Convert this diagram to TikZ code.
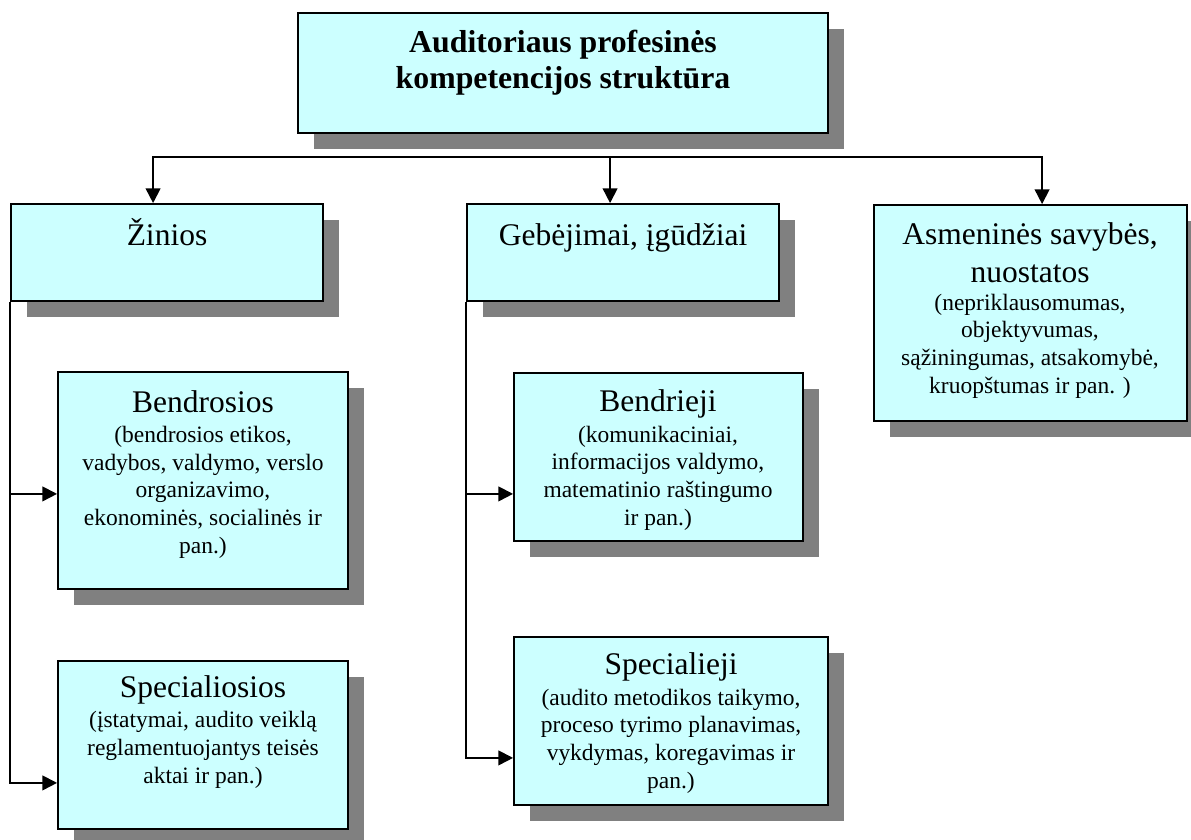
\documentclass[tikz,border=0pt]{standalone}
\usepackage{fontspec}
\setmainfont{Liberation Serif}
\usetikzlibrary{arrows.meta,shadows,fit,calc}
\definecolor{boxcyan}{HTML}{CCFFFF}
\definecolor{shadegray}{HTML}{808080}
\newcommand{\ttlfont}{\fontsize{22.6}{25.6}\selectfont\bfseries}
\newcommand{\headfont}{\fontsize{22.4}{25}\selectfont}
\newcommand{\notefont}{\fontsize{16.7}{19.6}\selectfont}

\begin{document}
\begin{tikzpicture}[x=0.025cm,y=-0.025cm,
    kbox/.style={draw,line width=1.3pt,fill=boxcyan,inner sep=0pt,
      drop shadow={shadow xshift=11.4pt,shadow yshift=-11.4pt,fill=shadegray,opacity=1}},
    txt/.style={anchor=base,inner sep=0pt,align=center,font=\notefont},
    link/.style={line width=1.3pt,-{Triangle[length=10.5pt,width=10.5pt]}}]
  \useasboundingbox (0,0) rectangle (1191,840);
  % boxes
  \node[kbox,fit={(298,13) (828,133)}] (top) {};
  \node[kbox,fit={(11,204) (323,301)}] (zin) {};
  \node[kbox,fit={(467,204) (779,301)}] (geb) {};
  \node[kbox,fit={(874,205) (1187,421)}] (asm) {};
  \node[kbox,fit={(58,372) (348,589)}] (bend) {};
  \node[kbox,fit={(58,661) (348,829)}] (spec) {};
  \node[kbox,fit={(514,373) (803,541)}] (bendr) {};
  \node[kbox,fit={(514,637) (828,805)}] (specj) {};
  % texts (anchored at the last baseline)
  \node[txt,font=\ttlfont] (toptxt) at (563,89) {Auditoriaus profesinės\\kompetencijos struktūra};
  \node[txt,font=\headfont] (zintxt) at (167,245) {Žinios};
  \node[txt,font=\headfont] (gebtxt) at (623,245) {Gebėjimai, įgūdžiai};
  \node[txt] (asmtxt) at (1030,393) {{\headfont Asmeninės savybės,}\\[7.4pt]{\headfont nuostatos}\\[0.3pt](nepriklausomumas,\\objektyvumas,\\sąžiningumas, atsakomybė,\\kruopštumas ir pan. )};
  \node[txt] (bendtxt) at (203,553) {{\headfont Bendrosios}\\[2.1pt](bendrosios etikos,\\vadybos, valdymo, verslo\\organizavimo,\\ekonominės, socialinės ir\\pan.)};
  \node[txt] (spectxt) at (203,783) {{\headfont Specialiosios}\\[2.1pt](įstatymai, audito veiklą\\reglamentuojantys teisės\\aktai ir pan.)};
  \node[txt] (bendrtxt) at (658,525) {{\headfont Bendrieji}\\[2.1pt](komunikaciniai,\\informacijos valdymo,\\matematinio raštingumo\\ir pan.)};
  \node[txt] (specjtxt) at (671,788) {{\headfont Specialieji}\\[2.1pt](audito metodikos taikymo,\\proceso tyrimo planavimas,\\vykdymas, koregavimas ir\\pan.)};
  % connectors
  \coordinate (bus) at ($(top.south)+(0,23)$);
  \draw[link] (bus) -| ($(zin.north west)+(143,0)$);
  \draw[link] (bus) -| ($(geb.north west)+(144,0)$);
  \draw[link] (bus) -| ($(asm.north west)+(169,0)$);
  \draw[link] (zin.south west) |- ($(bend.south west)+(0,-96)$);
  \draw[link] (zin.south west) |- ($(spec.south west)+(0,-47)$);
  \draw[link] (geb.south west) |- ($(bendr.south west)+(0,-48)$);
  \draw[link] (geb.south west) |- ($(specj.south west)+(0,-48)$);
\end{tikzpicture}
\end{document}
